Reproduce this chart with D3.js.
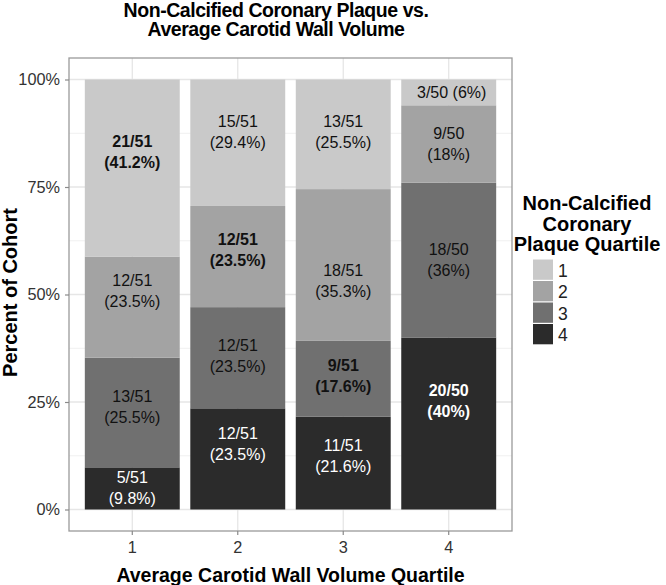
<!DOCTYPE html>
<html><head><meta charset="utf-8">
<script src="https://cdn.jsdelivr.net/npm/d3@7"></script>
<style>
body{margin:0;background:#fff}
svg{display:block}
text{font-family:"Liberation Sans",Arial,Helvetica,sans-serif}
</style>
</head><body>
<svg id="chart" width="666" height="585"></svg>
<script>
// ---- data ----
const wallQuartiles = ["1", "2", "3", "4"];
const plaqueQuartiles = ["1", "2", "3", "4"];
const plaque1Counts = [21, 15, 13, 3];
const plaque2Counts = [12, 12, 18, 9];
const plaque3Counts = [13, 12, 9, 18];
const plaque4Counts = [5, 12, 11, 20];
const cohortTotals = [51, 51, 51, 50];
const boldPlaque = ["1", "2", "3", "4"]; // highlighted plaque quartile per bar
// label centre heights (fraction of cohort)
const plaque1LabelY = [0.831, 0.879, 0.879, 0.970];
const plaque2LabelY = [0.508, 0.605, 0.532, 0.850];
const plaque3LabelY = [0.238, 0.358, 0.310, 0.582];
const plaque4LabelY = [0.051, 0.152, 0.126, 0.254];
const yTicks = [0, 0.25, 0.5, 0.75, 1];
const yMinorTicks = [0.125, 0.375, 0.625, 0.875];
const yTickLabels = ["0%", "25%", "50%", "75%", "100%"];
const titleLines = ["Non-Calcified Coronary Plaque vs.", "Average Carotid Wall Volume"];
const xTitle = "Average Carotid Wall Volume Quartile";
const yTitle = "Percent of Cohort";
const legendTitleLines = ["Non-Calcified", "Coronary", "Plaque Quartile"];

// ---- styles ----
const fills = {"1": "#c9c9c9", "2": "#a3a3a3", "3": "#707070", "4": "#2b2b2b"};
const textFill = {"1": "#111", "2": "#111", "3": "#111", "4": "#fff"};

const countsBy = {"1": plaque1Counts, "2": plaque2Counts, "3": plaque3Counts, "4": plaque4Counts};
const labelYBy = {"1": plaque1LabelY, "2": plaque2LabelY, "3": plaque3LabelY, "4": plaque4LabelY};

const rows = wallQuartiles.map((w, i) => {
  const r = {wall: w, total: cohortTotals[i]};
  plaqueQuartiles.forEach(p => { r[p] = countsBy[p][i] / cohortTotals[i]; });
  return r;
});

const svg = d3.select("#chart");
const panel = {left: 69, right: 512, top: 58, bottom: 531};

const x = d3.scaleBand().domain(wallQuartiles).range([panel.left, panel.right])
  .paddingInner(0.1).paddingOuter(0.15);
const y = d3.scaleLinear().domain([-0.05, 1.05]).range([panel.bottom, panel.top]);

// panel background + grid
svg.append("rect").attr("x", panel.left).attr("y", panel.top)
  .attr("width", panel.right - panel.left).attr("height", panel.bottom - panel.top)
  .attr("fill", "#fff");
const grid = svg.append("g");
grid.selectAll("line.minor").data(yMinorTicks).join("line")
  .attr("x1", panel.left).attr("x2", panel.right)
  .attr("y1", d => y(d)).attr("y2", d => y(d))
  .attr("stroke", "#f0f0f0").attr("stroke-width", 1);
grid.selectAll("line.major").data(yTicks).join("line")
  .attr("x1", panel.left).attr("x2", panel.right)
  .attr("y1", d => y(d)).attr("y2", d => y(d))
  .attr("stroke", "#e6e6e6").attr("stroke-width", 1.3);
grid.selectAll("line.vert").data(wallQuartiles).join("line")
  .attr("x1", d => x(d) + x.bandwidth() / 2).attr("x2", d => x(d) + x.bandwidth() / 2)
  .attr("y1", panel.top).attr("y2", panel.bottom)
  .attr("stroke", "#e6e6e6").attr("stroke-width", 1.3);

// stacked bars (plaque quartile 4 at bottom)
const stackKeys = plaqueQuartiles.slice().reverse();
const series = d3.stack().keys(stackKeys)(rows);
svg.append("g").selectAll("g").data(series).join("g")
  .attr("fill", s => fills[s.key])
  .selectAll("rect").data(s => s).join("rect")
  .attr("x", d => x(d.data.wall))
  .attr("width", x.bandwidth())
  .attr("y", d => y(d[1]))
  .attr("height", d => y(d[0]) - y(d[1]));

// labels
const pct = d3.format(".1~f");
const labels = [];
wallQuartiles.forEach((w, i) => {
  plaqueQuartiles.forEach(p => {
    const n = countsBy[p][i], t = cohortTotals[i];
    const share = n / t;
    labels.push({
      wall: w, plaque: p,
      line1: `${n}/${t}`, line2: `(${pct(share * 100)}%)`,
      single: share < 0.08,
      yv: labelYBy[p][i],
      bold: boldPlaque[i] === p
    });
  });
});
const lg = svg.append("g").attr("text-anchor", "middle").attr("font-size", 16);
labels.forEach(d => {
  const cx = x(d.wall) + x.bandwidth() / 2;
  const cy = y(d.yv);
  const t = lg.append("text")
    .attr("fill", textFill[d.plaque])
    .attr("font-weight", d.bold ? "bold" : "normal");
  if (d.single) {
    t.append("tspan").attr("x", cx + 3).attr("y", cy).attr("dy", "0.36em")
      .text(`${d.line1} ${d.line2}`);
  } else {
    t.append("tspan").attr("x", cx).attr("y", cy - 10.5).attr("dy", "0.36em").text(d.line1);
    t.append("tspan").attr("x", cx).attr("y", cy + 10.5).attr("dy", "0.36em").text(d.line2);
  }
});

// panel border
svg.append("rect").attr("x", panel.left).attr("y", panel.top)
  .attr("width", panel.right - panel.left).attr("height", panel.bottom - panel.top)
  .attr("fill", "none").attr("stroke", "#9a9a9a").attr("stroke-width", 1.3);

// axes
const yAxis = svg.append("g").attr("transform", `translate(${panel.left},0)`)
  .call(d3.axisLeft(y).tickValues(yTicks).tickFormat((d, i) => yTickLabels[i])
    .tickSize(4).tickPadding(5));
yAxis.select(".domain").remove();
yAxis.selectAll("line").attr("stroke", "#8a8a8a").attr("stroke-width", 1.2);
yAxis.selectAll("text").attr("font-size", 16.3).attr("fill", "#333")
  .attr("font-family", "'Liberation Sans',Arial,sans-serif");

const xAxis = svg.append("g").attr("transform", `translate(0,${panel.bottom})`)
  .call(d3.axisBottom(x).tickSize(4).tickPadding(6));
xAxis.select(".domain").remove();
xAxis.selectAll("line").attr("stroke", "#8a8a8a").attr("stroke-width", 1.2);
xAxis.selectAll("text").attr("font-size", 16.3).attr("fill", "#333")
  .attr("font-family", "'Liberation Sans',Arial,sans-serif");

// titles
const cxPanel = (panel.left + panel.right) / 2;
svg.append("g").attr("text-anchor", "middle").attr("font-weight", "bold").attr("font-size", 19.5)
  .attr("letter-spacing", "-0.45px")
  .selectAll("text").data(titleLines).join("text")
  .attr("x", 276).attr("y", (d, i) => 16.7 + i * 19.6).text(d => d);

svg.append("text").attr("x", cxPanel).attr("y", 582)
  .attr("text-anchor", "middle").attr("font-weight", "bold").attr("font-size", 19.5).text(xTitle);

svg.append("text").attr("transform", `translate(17,${(panel.top + panel.bottom) / 2 - 2}) rotate(-90)`)
  .attr("text-anchor", "middle").attr("font-weight", "bold").attr("font-size", 20).text(yTitle);

// legend
const leg = svg.append("g");
leg.append("g").attr("text-anchor", "middle").attr("font-weight", "bold").attr("font-size", 20)
  .selectAll("text").data(legendTitleLines).join("text")
  .attr("x", 587).attr("y", (d, i) => 210 + i * 20.6).text(d => d);
const keyH = 21.5;
const keys = leg.selectAll("g.key").data(plaqueQuartiles).join("g")
  .attr("transform", (d, i) => `translate(533,${259.5 + i * keyH})`);
keys.append("rect").attr("width", 20).attr("height", keyH - 1.2)
  .attr("fill", d => fills[d]);
keys.append("text").attr("x", 25).attr("y", keyH / 2).attr("dy", "0.36em")
  .attr("font-size", 17.5).attr("fill", "#222").text(d => d);
</script>
</body></html>
